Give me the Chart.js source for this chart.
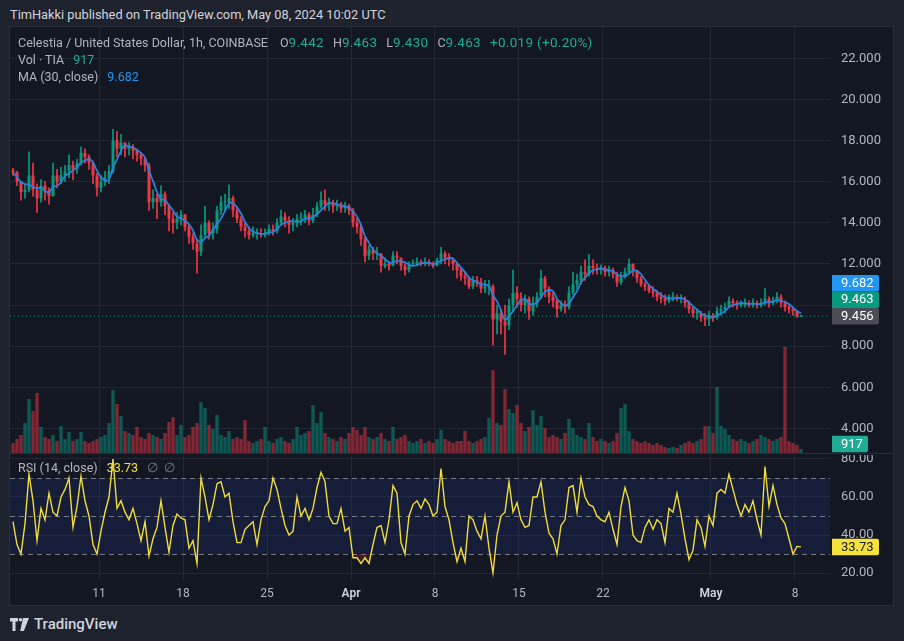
<!DOCTYPE html>
<html>
<head>
<meta charset="utf-8">
<script src="https://cdn.jsdelivr.net/npm/chart.js@4.4.1/dist/chart.umd.min.js"></script>
<style>
  html, body { margin:0; padding:0; width:904px; height:641px; overflow:hidden; background:#1e222d; font-family: Roboto, "Noto Sans", sans-serif; }
  #title { position:absolute; left:10px; top:6px; color:#d1d4dc; font-size:12.8px; line-height:18px; white-space:nowrap; }
  #panel { position:absolute; left:9px; top:26px; width:885px; height:580px; background:#131722; border:1px solid #2a2e39; box-sizing:border-box; }
  #sep { position:absolute; left:10px; top:453px; width:883px; height:1px; background:#2a2e39; }
  canvas { position:absolute; }
  .leg { position:absolute; left:18px; color:#b2b5be; font-size:12.5px; line-height:17px; white-space:nowrap; }
  .it { margin-left:9px; }
  .it0 { margin-left:12px; }
  .v { font-size:13.5px; letter-spacing:0.3px; }
  .g { color:#22ab94; }
  .b { color:#2196f3; }
  .y { color:#f5e33b; }
  .gr { color:#787b86; }
  #logo { position:absolute; left:10px; top:615px; color:#d1d4dc; font-size:15px; font-weight:500; line-height:18px; white-space:nowrap; display:flex; align-items:center; gap:5px; }
</style>
</head>
<body>
<div id="title">TimHakki published on TradingView.com, May 08, 2024 10:02 UTC</div>
<div id="panel"></div>
<canvas id="main" width="883" height="426" style="left:10px; top:27px; width:883px; height:426px;"></canvas>
<div id="sep"></div>
<canvas id="rsi" width="883" height="150" style="left:10px; top:455px; width:883px; height:150px;"></canvas>
<div class="leg" style="top:34px">Celestia / United States Dollar, 1h, COINBASE<span class="it0">O<span class="g v">9.442</span></span><span class="it">H<span class="g v">9.463</span></span><span class="it">L<span class="g v">9.430</span></span><span class="it">C<span class="g v">9.463</span></span><span class="it g v">+0.019 (+0.20%)</span></div>
<div class="leg" style="top:51px">Vol · TIA<span class="it g">917</span></div>
<div class="leg" style="top:68px">MA (30, close)<span class="it b">9.682</span></div>
<div class="leg" style="top:459px">RSI (14, close)<span class="it y">33.73</span><span class="it gr">∅&nbsp; ∅</span></div>
<div id="logo"><svg width="19" height="13" viewBox="0 0 19 13"><path d="M0 0h8v3.5H5.5V13H2.5V3.5H0z" fill="#d1d4dc"/><circle cx="10.5" cy="1.8" r="1.8" fill="#d1d4dc"/><path d="M13 0h6l-5.2 13h-3.6z" fill="#d1d4dc"/></svg><span>TradingView</span></div>

<script>
// ---------- DATA ----------
// 8-hour candles, times in days relative to 11 Mar 2024 00:00 UTC
const startDay = -7.3333;          // first candle opens 3 Mar 16:00
const stepDays = 1 / 3;            // 8 hours
const firstOpen = 16.55;

const closes = [
  16.45,16.0,15.5,15.6,16.3,15.6,15.2,15.8,15.6,15.3,
  16.3,16.0,16.3,16.5,16.8,16.6,16.9,17.4,17.2,16.9,
  16.3,15.7,16.0,16.2,16.5,18.0,17.6,17.9,17.6,17.7,
  17.5,17.3,17.1,16.8,15.0,15.2,15.0,15.4,14.8,14.2,
  14.0,14.2,14.4,13.8,13.3,13.0,12.6,13.4,14.0,13.5,
  13.7,14.6,15.0,15.0,15.2,14.6,14.2,13.8,13.6,13.4,
  13.5,13.5,13.4,13.5,13.7,13.6,14.0,14.3,14.1,13.9,
  14.0,14.2,14.2,14.4,14.1,14.4,14.8,15.1,14.9,15.0,
  14.8,14.9,14.7,14.8,14.6,14.0,13.8,13.2,12.4,12.7,
  12.5,12.5,11.9,12.0,11.9,12.4,12.3,11.9,11.7,12.0,
  12.0,12.1,12.0,12.1,12.0,11.9,12.2,12.5,12.3,12.2,
  12.0,11.7,11.4,11.3,10.9,11.2,11.1,10.8,10.9,10.9,
  9.3,9.6,9.2,9.0,10.0,10.6,10.3,10.0,10.3,9.7,
  10.1,10.4,11.3,10.8,10.4,10.2,9.8,10.0,9.9,10.6,
  11.0,11.2,11.6,11.5,11.9,11.8,11.7,11.8,11.6,11.7,
  11.5,11.1,11.4,11.6,12.0,11.7,11.3,11.0,10.9,10.7,
  10.6,10.4,10.3,10.2,10.4,10.4,10.3,10.3,10.1,9.8,
  9.6,9.6,9.4,9.3,9.5,9.4,9.7,9.8,9.9,10.2,
  10.1,10.0,10.1,10.1,10.0,10.1,10.0,10.1,10.3,10.1,
  10.2,10.4,10.1,9.9,9.8,9.7,9.45,9.463
];
const highs = [
  16.65,16.5,16.0,15.9,17.45,16.9,15.9,16.1,16.0,15.7,
  16.9,16.6,16.7,16.8,17.3,17.0,17.1,17.7,17.6,17.3,
  17.0,16.4,16.3,16.5,16.8,18.55,18.45,18.3,17.9,17.9,
  17.8,17.6,17.4,17.2,16.9,15.6,15.4,15.8,15.5,14.9,
  14.5,14.5,14.6,14.4,13.9,13.5,13.2,13.9,14.8,14.1,
  14.0,14.8,15.3,15.4,15.85,15.3,14.8,14.3,14.0,13.8,
  13.8,13.7,13.7,13.7,13.9,13.9,14.2,14.6,14.5,14.3,
  14.2,14.4,14.5,14.6,14.5,14.7,15.0,15.5,15.6,15.2,
  15.1,15.1,15.0,15.0,14.9,14.7,14.2,13.9,13.3,12.9,
  12.8,12.8,12.5,12.3,12.1,12.6,12.6,12.3,12.0,12.1,
  12.2,12.3,12.2,12.3,12.2,12.1,12.3,12.8,12.6,12.5,
  12.3,12.0,11.8,11.6,11.4,11.4,11.4,11.3,11.2,11.2,
  11.0,10.0,9.8,10.0,10.3,11.7,10.9,10.6,10.5,10.4,
  10.4,10.6,11.7,11.4,10.9,10.6,10.3,10.2,10.2,10.9,
  11.6,11.5,11.9,12.2,12.45,12.2,12.0,11.95,11.9,11.9,
  11.8,11.6,11.6,11.8,12.25,12.0,11.7,11.4,11.1,11.0,
  10.9,10.7,10.6,10.5,10.5,10.6,10.5,10.5,10.4,10.2,
  9.9,9.8,9.7,9.6,9.7,9.6,9.9,10.0,10.1,10.4,
  10.3,10.2,10.2,10.3,10.2,10.3,10.2,10.3,10.8,10.4,
  10.4,10.6,10.5,10.2,10.0,9.9,9.75,9.5
];
const lows = [
  16.3,15.8,15.1,15.2,15.5,15.3,14.5,15.0,15.1,14.9,
  15.3,15.7,15.9,16.0,16.2,16.1,16.4,16.8,16.9,16.6,
  15.9,15.3,15.5,15.8,15.9,16.4,17.2,17.3,17.2,17.3,
  17.1,17.0,16.8,16.5,14.6,14.7,14.2,14.8,14.4,13.6,
  13.5,13.7,13.9,13.6,13.0,12.7,11.55,12.4,13.3,13.2,
  13.2,13.5,14.4,14.6,14.7,14.3,14.0,13.6,13.3,13.2,
  13.3,13.2,13.3,13.3,13.4,13.4,13.5,13.9,13.8,13.5,
  13.6,13.8,13.9,14.0,13.9,14.0,14.3,14.7,14.6,14.6,
  14.5,14.6,14.5,14.5,14.4,13.8,13.5,12.9,12.1,12.2,
  12.2,12.2,11.6,11.8,11.7,11.9,12.0,11.7,11.45,11.6,
  11.9,11.9,11.9,11.9,11.9,11.8,11.9,12.0,12.0,11.9,
  11.7,11.3,11.2,11.0,10.8,10.8,10.9,10.6,10.6,10.5,
  8.05,8.6,8.6,7.6,8.8,9.7,9.9,9.7,9.6,9.3,
  9.5,9.9,10.3,10.4,10.1,9.9,9.4,9.7,9.6,9.8,
  10.5,10.8,11.0,11.2,11.4,11.5,11.5,11.5,11.4,11.4,
  11.3,10.9,11.0,11.3,11.5,11.4,11.1,10.9,10.7,10.6,
  10.4,10.2,10.1,10.0,10.1,10.2,10.2,10.1,9.9,9.6,
  9.4,9.3,9.2,9.0,9.0,9.2,9.3,9.5,9.6,9.9,
  9.9,9.8,9.9,9.9,9.9,9.9,9.85,9.9,10.0,9.9,
  10.0,10.1,9.9,9.7,9.6,9.5,9.4,9.43
];
// volume, thousand TIA per bar
const volumes = [
  40,56,72,120,216,168,240,104,64,56,
  72,48,108,56,84,48,56,84,48,40,
  48,56,64,72,120,252,196,148,88,80,
  72,104,64,56,80,72,64,56,80,124,
  144,72,112,64,72,104,120,204,180,112,
  96,152,72,64,88,56,64,56,132,48,
  40,48,56,104,48,40,56,64,48,40,
  56,104,72,80,88,192,120,164,80,64,
  56,48,64,56,80,104,92,72,104,64,
  56,64,80,56,48,104,56,64,72,48,
  40,48,56,40,48,40,56,92,56,48,
  40,48,48,88,48,40,48,56,64,140,
  332,120,112,256,176,160,192,120,88,104,
  172,112,148,100,64,72,64,56,80,136,
  100,72,64,56,120,64,48,56,48,40,
  48,80,180,196,88,56,48,40,48,40,
  32,40,32,24,20,24,20,32,40,48,
  40,48,56,108,108,80,264,108,96,72,
  56,48,56,48,40,48,56,72,64,56,
  48,56,64,424,48,40,32,16
];
const rsi = [
  47,35,30,46,72,58,37,54,48,62,
  52,50,60,64,70,44,55,71,58,50,
  35,30,42,52,60,80,54,58,52,48,
  54,46,37,47,29,38,44,58,44,31,
  45,51,49,48,33,37,25,70,60,48,
  56,67,68,60,62,47,36,36,43,45,
  47,35,48,55,58,70,64,54,45,40,
  42,60,50,54,48,54,65,73,68,50,
  46,46,54,42,44,28,28,25,28,25,
  35,44,45,36,48,66,62,36,30,50,
  56,58,54,59,56,50,52,75,55,48,
  36,26,33,26,50,48,42,38,50,33,
  20,40,50,52,68,52,57,48,44,45,
  60,60,68,52,41,38,30,45,48,65,
  66,52,70,60,56,55,50,48,47,52,
  43,35,55,65,58,40,37,36,44,48,
  43,48,46,36,54,52,62,51,38,27,
  32,48,44,34,50,45,62,64,62,72,
  64,56,50,56,52,58,48,40,76,55,
  66,56,49,46,38,30,34,33.73
];
const tickDays   = [0, 7, 14, 21, 28, 35, 42, 51, 58];
const tickLabels = ['11', '18', '25', 'Apr', '8', '15', '22', 'May', '8'];
const monthLabels = ['Apr', 'May'];
const priceTicks = [4, 6, 8, 10, 12, 14, 16, 18, 20, 22];
const rsiTicks = [20, 40, 60, 80];
const rsiLevels = [70, 50, 30];
const maLength = 4;                 // 4 x 8h ~ 30h moving average
const lastPrice = 9.463, maValue = 9.682, otherPrice = 9.456, lastVolume = 917, lastRsi = 33.73;

// ---------- VIEW ----------
const xMin = -7.4167, xMax = 60.9167;
const pMin = 2.803, pMax = 23.522;
const volMax = 1704;
const rMin = 16.316, rMax = 82.105;
const UP = '#089981', DOWN = '#f23645', GRID = '#232733', TXT = '#b2b5be';
const FONT = 'Roboto, "Noto Sans", sans-serif';

const xs = closes.map((_, i) => startDay + (i + 0.5) * stepDays);
const opens = closes.map((c, i) => i === 0 ? firstOpen : closes[i - 1]);
const isUp = closes.map((c, i) => c >= opens[i]);
const ma = closes.map((_, i) => {
  const s = Math.max(0, i - maLength + 1); let t = 0;
  for (let k = s; k <= i; k++) t += closes[k];
  return t / (i - s + 1);
});

Chart.defaults.font.family = FONT;
Chart.defaults.color = TXT;
Chart.defaults.animation = false;

function noPadX(s) { s.height = s._fixedH; s.paddingLeft = 0; s.paddingRight = 0; s.paddingTop = 0; s.paddingBottom = 0; }
function noPadY(s) { s.width = 63; s.paddingLeft = 0; s.paddingRight = 0; s.paddingTop = 0; s.paddingBottom = 0; }

function rbox(ctx, x, yc, w, h, bg, fg, text) {
  ctx.save();
  ctx.fillStyle = bg;
  const y = yc - h / 2, r = 2;
  ctx.beginPath();
  ctx.moveTo(x, y); ctx.lineTo(x + w - r, y); ctx.quadraticCurveTo(x + w, y, x + w, y + r);
  ctx.lineTo(x + w, y + h - r); ctx.quadraticCurveTo(x + w, y + h, x + w - r, y + h);
  ctx.lineTo(x, y + h); ctx.closePath(); ctx.fill();
  ctx.fillStyle = fg; ctx.font = '13px ' + FONT;
  ctx.textBaseline = 'middle'; ctx.textAlign = 'left';
  ctx.fillText(text, x + 9, yc + 0.5);
  ctx.restore();
}

const mainLabels = {
  id: 'mainLabels',
  afterDraw(chart) {
    const ctx = chart.ctx, a = chart.chartArea, y = chart.scales.y, v = chart.scales.vol;
    const y0 = y.getPixelForValue(otherPrice);
    rbox(ctx, a.right + 2, y0, 47, 16.5, '#4a4d55', '#ffffff', otherPrice.toFixed(3));
    rbox(ctx, a.right + 2, y0 - 16.5, 47, 16.5, UP, '#ffffff', lastPrice.toFixed(3));
    rbox(ctx, a.right + 2, y0 - 33, 47, 16.5, '#2196f3', '#ffffff', maValue.toFixed(3));
    rbox(ctx, a.right + 2, v.getPixelForValue(0) - 9, 36, 16.5, '#22ab94', '#ffffff', String(lastVolume));
  }
};

new Chart(document.getElementById('main'), {
  type: 'bar',
  data: {
    datasets: [
      { type: 'line', data: [{ x: xMin, y: lastPrice }, { x: xMax, y: lastPrice }], borderColor: UP, borderWidth: 1,
        borderDash: [1, 3], pointRadius: 0, yAxisID: 'y', order: 0 },
      { type: 'line', data: xs.map((x, i) => ({ x, y: ma[i] })), borderColor: '#2a83e0', borderWidth: 1.7,
        pointRadius: 0, tension: 0.35, yAxisID: 'y', order: 1 },
      { type: 'bar', data: xs.map((x, i) => ({ x, y: [opens[i], closes[i]] })),
        backgroundColor: isUp.map(u => u ? UP : DOWN), barPercentage: 0.75, categoryPercentage: 1,
        grouped: false, minBarLength: 1, yAxisID: 'y', order: 2 },
      { type: 'bar', data: xs.map((x, i) => ({ x, y: [Math.min(lows[i], opens[i], closes[i]), Math.max(highs[i], opens[i], closes[i])] })),
        backgroundColor: isUp.map(u => u ? UP : DOWN), barThickness: 1, grouped: false, yAxisID: 'y', order: 3 },
      { type: 'bar', data: xs.map((x, i) => ({ x, y: volumes[i] })),
        backgroundColor: isUp.map(u => u ? 'rgba(8,153,129,0.5)' : 'rgba(242,54,69,0.5)'),
        barPercentage: 0.85, categoryPercentage: 1, grouped: false, yAxisID: 'vol', order: 4 }
    ]
  },
  options: {
    responsive: false, events: [],
    layout: { padding: 0, autoPadding: false },
    plugins: { legend: { display: false }, tooltip: { enabled: false } },
    scales: {
      x: { type: 'linear', min: xMin, max: xMax, offset: false,
        afterBuildTicks: s => { s.ticks = tickDays.map(v => ({ value: v })); },
        ticks: { display: false }, grid: { color: GRID, drawTicks: false, offset: false }, border: { display: false },
        afterFit: s => { s._fixedH = 0; noPadX(s); } },
      y: { position: 'right', min: pMin, max: pMax,
        afterBuildTicks: s => { s.ticks = priceTicks.map(v => ({ value: v })); },
        ticks: { color: TXT, padding: 11, font: { size: 13 }, callback: v => (v === 10 ? '' : v.toFixed(3)) },
        grid: { color: GRID, drawTicks: false }, border: { display: false },
        afterFit: noPadY },
      vol: { display: false, min: 0, max: volMax }
    }
  },
  plugins: [mainLabels]
});

const rsiDecor = {
  id: 'rsiDecor',
  beforeDatasetsDraw(chart) {
    const ctx = chart.ctx, a = chart.chartArea, y = chart.scales.y;
    ctx.save();
    const t = y.getPixelForValue(rsiLevels[0]), b = y.getPixelForValue(rsiLevels[2]);
    ctx.fillStyle = 'rgba(45,85,235,0.11)';
    ctx.fillRect(a.left, t, a.width, b - t);
    ctx.strokeStyle = '#787b86'; ctx.lineWidth = 1; ctx.setLineDash([5, 4]);
    rsiLevels.forEach(l => {
      const py = Math.round(y.getPixelForValue(l)) + 0.5;
      ctx.beginPath(); ctx.moveTo(a.left, py); ctx.lineTo(a.right, py); ctx.stroke();
    });
    ctx.restore();
  },
  afterDraw(chart) {
    const a = chart.chartArea, y = chart.scales.y;
    rbox(chart.ctx, a.right + 2, y.getPixelForValue(lastRsi), 47, 16.5, '#f5e33b', '#131722', lastRsi.toFixed(2));
  }
};

function isMonthTick(c) {
  return !!(c && c.tick) && monthLabels.includes(tickLabels[tickDays.indexOf(c.tick.value)]);
}

new Chart(document.getElementById('rsi'), {
  type: 'line',
  data: {
    datasets: [
      { data: xs.map((x, i) => ({ x, y: rsi[i] })), borderColor: '#f0dc3a', borderWidth: 1.4, pointRadius: 0,
        tension: 0, fill: { target: { value: 30 }, above: 'rgba(0,0,0,0)', below: 'rgba(242,54,69,0.18)' } }
    ]
  },
  options: {
    responsive: false, events: [],
    layout: { padding: 0, autoPadding: false },
    plugins: { legend: { display: false }, tooltip: { enabled: false } },
    scales: {
      x: { type: 'linear', min: xMin, max: xMax, offset: false,
        afterBuildTicks: s => { s.ticks = tickDays.map(v => ({ value: v })); },
        ticks: { autoSkip: false, maxRotation: 0, minRotation: 0, padding: 7,
          callback: v => tickLabels[tickDays.indexOf(v)],
          color: c => isMonthTick(c) ? '#d1d4dc' : TXT,
          font: c => ({ size: 12, weight: isMonthTick(c) ? '600' : '400' }) },
        grid: { color: GRID, drawTicks: false, offset: false }, border: { display: false },
        afterFit: s => { s._fixedH = 25; noPadX(s); } },
      y: { position: 'right', min: rMin, max: rMax,
        afterBuildTicks: s => { s.ticks = rsiTicks.map(v => ({ value: v })); },
        ticks: { color: TXT, padding: 11, font: { size: 13 }, callback: v => v.toFixed(2) },
        grid: { color: GRID, drawTicks: false }, border: { display: false },
        afterFit: noPadY }
    }
  },
  plugins: [rsiDecor]
});
</script>
</body>
</html>
